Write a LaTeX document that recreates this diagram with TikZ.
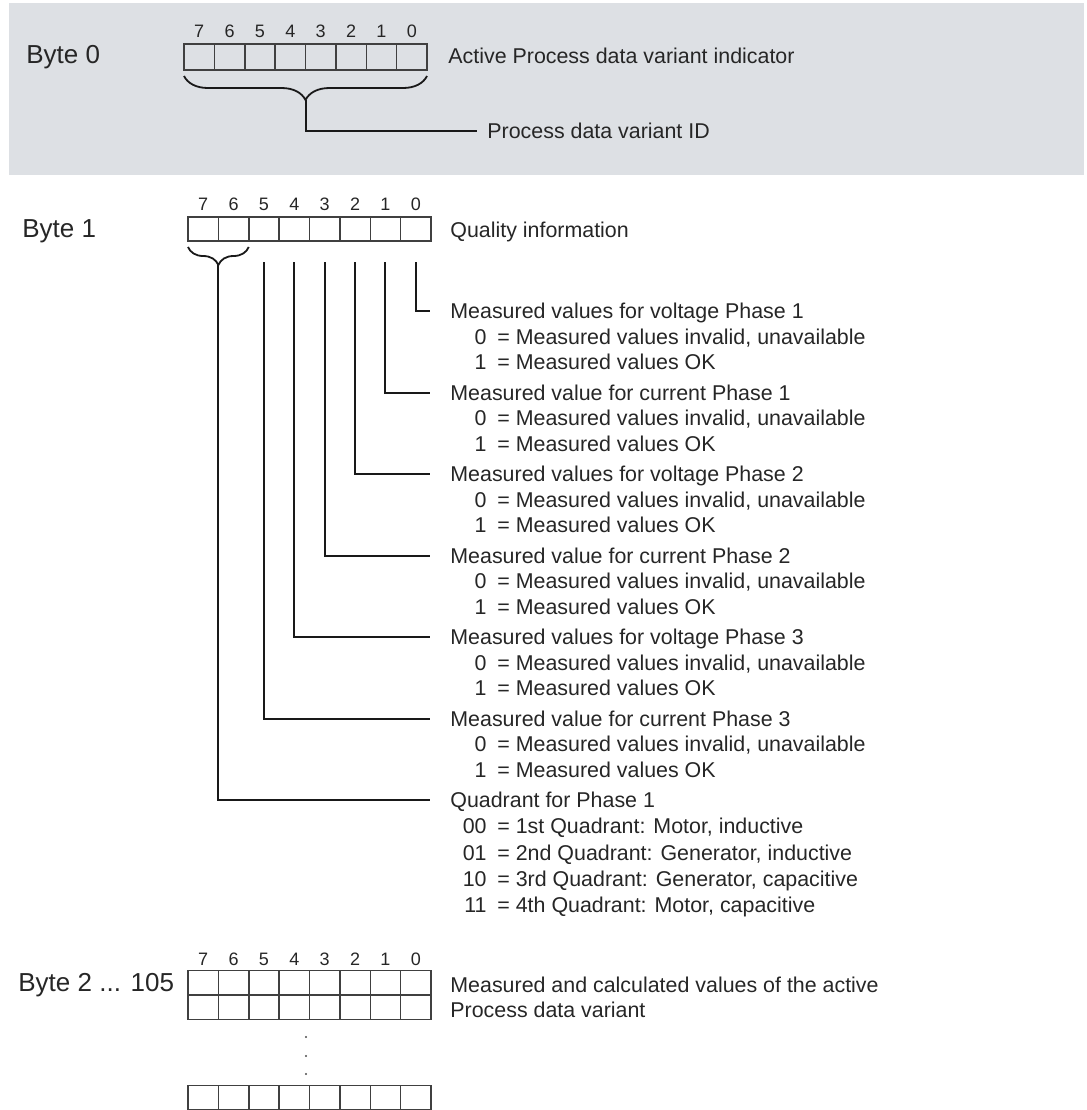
\documentclass[tikz,border=0pt]{standalone}
\usepackage{fontspec}
\setmainfont{Liberation Sans}
\usetikzlibrary{decorations.pathreplacing}
\definecolor{bandgray}{RGB}{221,224,228}
\definecolor{txtgray}{RGB}{38,38,38}
\begin{document}
\begin{tikzpicture}[x=0.5pt, y=-0.5pt,
    cell/.style={draw=black!75, line width=0.75pt, minimum width=15.19pt, inner sep=0pt, outer sep=0pt},
    bitno/.style={font=\fontsize{9}{10}\selectfont, text=txtgray, inner sep=0pt},
    bytelbl/.style={font=\fontsize{13}{15}\selectfont, text=txtgray, inner sep=0pt, anchor=base west},
    desc/.style={font=\fontsize{10.7}{13}\selectfont, text=txtgray, inner sep=0pt, anchor=west, text height=7.66pt, text depth=0pt},
    code/.style={desc, anchor=east},
    conn/.style={draw=black!90, line width=1pt},
    brc/.style={draw=black!90, line width=0.9pt, decorate, decoration={brace, mirror, amplitude=#1}}]
  \useasboundingbox (0,0) rectangle (1087,1110);
  \fill[bandgray] (9,3) rectangle (1084,175);
  % Byte 0
  \node[bytelbl] (byte0) at (26,63) {Byte 0};
  \foreach \b in {0,...,7}
    \node[cell, minimum height=13pt, label={[bitno, label distance=3pt]above:\b}] (b0c\b) at ({199.19+(7-\b)*30.375},57) {};
  \node[desc] (active) at (448,56) {Active Process data variant indicator};
  \draw[brc=12pt] ([shift={(0,6)}]b0c7.south west) -- ([shift={(0,6)}]b0c0.south east);
  \coordinate (b0tip) at ([shift={(0,30)}]b0c4.south east);
  \node[desc] (pdvid) at (487,131) {Process data variant ID};
  \draw[conn, shorten >=5pt] (b0tip) |- (pdvid.west);
  % Byte 1
  \node[bytelbl] (byte1) at (22,237) {Byte 1};
  \foreach \b in {0,...,7}
    \node[cell, minimum height=12pt, label={[bitno, label distance=3pt]above:\b}] (b1c\b) at ({203.19+(7-\b)*30.375},229) {};
  \node[desc] (quality) at (450,230) {Quality information};
  \foreach \txt [count=\i from 0] in {Measured values for voltage Phase 1, Measured value for current Phase 1,
      Measured values for voltage Phase 2, Measured value for current Phase 2,
      Measured values for voltage Phase 3, Measured value for current Phase 3} {
    \node[desc] (hd\i) at (450,{311+81.5*\i}) {\txt};
    \node[code] (c0n\i) at (487,{336.5+81.5*\i}) {0};
    \node[desc] (c0t\i) at (497,{336.5+81.5*\i}) {= Measured values invalid, unavailable};
    \node[code] (c1n\i) at (487,{362+81.5*\i}) {1};
    \node[desc] (c1t\i) at (497,{362+81.5*\i}) {= Measured values OK};
  }
  \foreach \b in {0,...,5}
    \draw[conn, shorten >=10pt] ([shift={(0,21)}]b1c\b.south) |- (hd\b.west);
  \draw[brc=9pt] ([shift={(0,6)}]b1c7.south west) -- ([shift={(0,6)}]b1c6.south east);
  \coordinate (q1tip) at ([shift={(0,24)}]b1c7.south east);
  \node[desc] (hd6) at (450,800) {Quadrant for Phase 1};
  \draw[conn, shorten >=10pt] (q1tip) |- (hd6.west);
  \foreach \cd/\txt [count=\i] in {00/{= 1st Quadrant: Motor, inductive}, 01/{= 2nd Quadrant: Generator, inductive},
      10/{= 3rd Quadrant: Generator, capacitive}, 11/{= 4th Quadrant: Motor, capacitive}} {
    \node[code] (qn\i) at (487,{800+26.25*\i}) {\cd};
    \node[desc] (qt\i) at (497,{800+26.25*\i}) {\txt};
  }
  % Byte 2 ... 105
  \node[bytelbl] (byte2) at (18,991) {Byte 2 ... 105};
  \foreach \b in {0,...,7} {
    \node[cell, minimum height=12.25pt, label={[bitno, label distance=2pt]above:\b}] (b2c\b) at ({203.19+(7-\b)*30.375},982.5) {};
    \node[cell, minimum height=12.25pt] (b3c\b) at ({203.19+(7-\b)*30.375},1007) {};
    \node[cell, minimum height=12.25pt] (bnc\b) at ({203.19+(7-\b)*30.375},1097.5) {};
  }
  \node[desc] (meas1) at (450,985) {Measured and calculated values of the active};
  \node[desc] (meas2) at (450,1010) {Process data variant};
  \foreach \yy in {1037,1056,1074}
    \fill[black!70] (306,\yy) circle (0.6pt);
\end{tikzpicture}
\end{document}
